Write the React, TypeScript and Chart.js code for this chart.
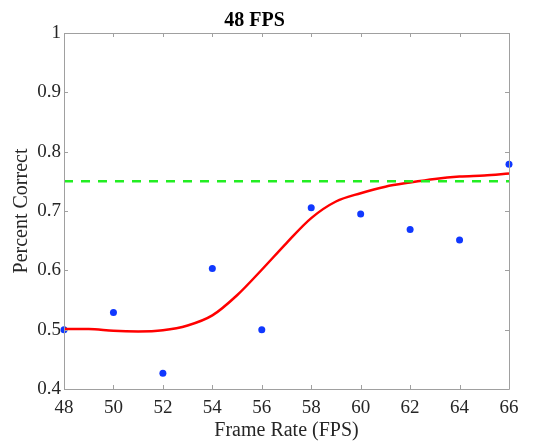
import React, { useEffect, useRef } from "react";
import { Chart, registerables } from "chart.js";

Chart.register(...registerables);

const frameRates = [48, 50, 52, 54, 56, 58, 60, 62, 64, 66];
const percentCorrect = [0.5, 0.529, 0.4265, 0.603, 0.5, 0.7055, 0.695, 0.669, 0.651, 0.779];

const fitX = [48, 49, 50, 51, 52, 53, 54, 55, 56, 57, 58, 59, 60, 61, 62, 63, 64, 65, 66];
const fitY = [0.501, 0.501, 0.498, 0.497, 0.499, 0.507, 0.524, 0.558, 0.601, 0.646, 0.688, 0.716, 0.73, 0.741, 0.748, 0.754, 0.758, 0.76, 0.763];

const threshold = 0.75;
const xTicks = [48, 50, 52, 54, 56, 58, 60, 62, 64, 66];
const yTicks = [0.4, 0.5, 0.6, 0.7, 0.8, 0.9, 1];

const FONT = "'Liberation Serif', 'DejaVu Serif', serif";

const boxPlugin = {
  id: "matlabBox",
  afterDatasetsDraw(chart: any) {
    const { ctx, chartArea: a, scales } = chart;
    ctx.save();
    ctx.strokeStyle = "#a0a0a0";
    ctx.lineWidth = 1;
    ctx.beginPath();
    ctx.rect(Math.round(a.left) + 0.5, Math.round(a.top) + 0.5, Math.round(a.right - a.left), Math.round(a.bottom - a.top));
    ctx.stroke();
    const tl = 4;
    ctx.beginPath();
    for (const v of xTicks) {
      const x = Math.round(scales.x.getPixelForValue(v)) + 0.5;
      ctx.moveTo(x, a.bottom);
      ctx.lineTo(x, a.bottom - tl);
      ctx.moveTo(x, a.top);
      ctx.lineTo(x, a.top + tl);
    }
    for (const v of yTicks) {
      const y = Math.round(scales.y.getPixelForValue(v)) + 0.5;
      ctx.moveTo(a.left, y);
      ctx.lineTo(a.left + tl, y);
      ctx.moveTo(a.right, y);
      ctx.lineTo(a.right - tl, y);
    }
    ctx.stroke();
    ctx.restore();
  },
};

export default function App() {
  const ref = useRef<HTMLCanvasElement>(null);
  useEffect(() => {
    if (!ref.current) return;
    const chart = new Chart(ref.current, {
      type: "scatter",
      data: {
        datasets: [
          {
            type: "line",
            label: "threshold",
            data: [
              { x: xTicks[0], y: threshold },
              { x: xTicks[xTicks.length - 1], y: threshold },
            ],
            borderColor: "#22ee22",
            borderWidth: 2.5,
            borderDash: [9, 8],
            pointRadius: 0,
            fill: false,
          },
          {
            type: "line",
            label: "fit",
            data: fitX.map((x, i) => ({ x, y: fitY[i] })),
            borderColor: "#ff0000",
            borderWidth: 2.5,
            pointRadius: 0,
            cubicInterpolationMode: "monotone",
            fill: false,
          },
          {
            type: "scatter",
            label: "data",
            data: frameRates.map((x, i) => ({ x, y: percentCorrect[i] })),
            backgroundColor: "#1038ff",
            borderColor: "#1038ff",
            pointRadius: 3.5,
            borderWidth: 0,
          },
        ],
      },
      options: {
        responsive: false,
        animation: false,
        clip: false as any,
        layout: { padding: { left: 0, right: 27, top: 0, bottom: 0 } },
        plugins: {
          legend: { display: false },
          tooltip: { enabled: false },
          title: {
            display: true,
            text: "48 FPS",
            color: "#000000",
            font: { family: FONT, size: 20, weight: "bold", lineHeight: 1.2 },
            padding: { top: 9, bottom: 0 },
          },
        },
        scales: {
          x: {
            type: "linear",
            min: 48,
            max: 66,
            afterFit: (s: any) => {
              s.height = 54;
            },
            afterBuildTicks: (s: any) => {
              s.ticks = xTicks.map((v) => ({ value: v }));
            },
            grid: { display: false, drawTicks: false },
            border: { display: false },
            ticks: {
              color: "#262626",
              font: { family: FONT, size: 19 },
              padding: 8,
              maxRotation: 0,
              autoSkip: false,
            },
            title: {
              display: true,
              text: "Frame Rate (FPS)",
              color: "#262626",
              font: { family: FONT, size: 20, lineHeight: 1.2 },
              padding: { top: 0, bottom: 0 },
            },
          },
          y: {
            type: "linear",
            min: 0.4,
            max: 1,
            afterFit: (s: any) => {
              s.width = 64;
            },
            afterBuildTicks: (s: any) => {
              s.ticks = yTicks.map((v) => ({ value: v }));
            },
            grid: { display: false, drawTicks: false },
            border: { display: false },
            ticks: {
              color: "#262626",
              font: { family: FONT, size: 19 },
              padding: 3,
              autoSkip: false,
              callback: (v: any) => String(Math.round(Number(v) * 10) / 10),
            },
            title: {
              display: true,
              text: "Percent Correct",
              color: "#262626",
              font: { family: FONT, size: 20, lineHeight: 1.2 },
              padding: { top: 10, bottom: 0 },
            },
          },
        },
      },
      plugins: [boxPlugin],
    });
    return () => chart.destroy();
  }, []);
  return (
    <div style={{ position: "absolute", left: 0, top: 0, width: 536, height: 443, background: "#fff" }}>
      <canvas ref={ref} width={536} height={443} style={{ display: "block" }} />
    </div>
  );
}
